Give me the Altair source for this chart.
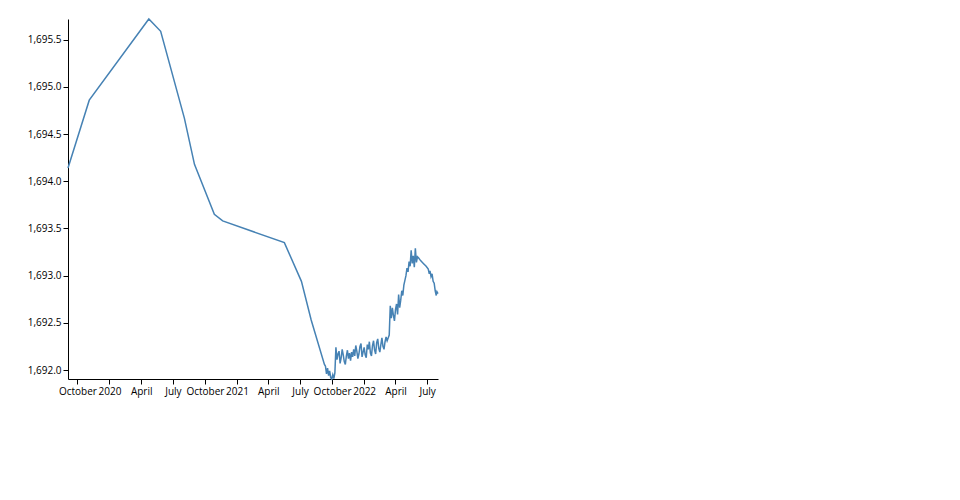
import altair as alt
import pandas as pd

# Sparse early readings
sparse_dates = [
    "2019-09-04", "2019-11-04", "2020-04-23", "2020-05-27", "2020-08-03",
    "2020-09-01", "2020-10-28", "2020-11-21", "2021-05-17", "2021-07-05",
    "2021-08-02", "2021-09-09",
]
sparse_values = [
    1694.14, 1694.86, 1695.72, 1695.59, 1694.67,
    1694.18, 1693.65, 1693.58, 1693.35, 1692.94,
    1692.53, 1692.06,
]

# Dense readings every three days, from 2021-09-12 to 2022-06-03
dense_start = "2021-09-12"
dense_values = [
    # Sep 12 - Oct 9
    1692.04, 1691.96, 1692.02, 1691.94, 1691.99, 1691.92, 1691.905, 1691.95,
    1691.91, 1691.97,
    # Oct 12 - Nov 29
    1692.24, 1692.11, 1692.17, 1692.20, 1692.07, 1692.13, 1692.22, 1692.16,
    1692.09, 1692.06, 1692.15, 1692.21, 1692.12, 1692.18, 1692.10, 1692.19,
    1692.14,
    # Dec 2 - Dec 29
    1692.22, 1692.15, 1692.26, 1692.20, 1692.12, 1692.17, 1692.25, 1692.28,
    1692.14, 1692.19,
    # Jan 1 - Mar 5
    1692.24, 1692.16, 1692.13, 1692.27, 1692.22, 1692.30, 1692.18, 1692.15,
    1692.26, 1692.31, 1692.21, 1692.17, 1692.29, 1692.33, 1692.23, 1692.19,
    1692.27, 1692.34, 1692.25, 1692.22, 1692.30, 1692.35,
    # Mar 8 - Mar 14
    1692.31, 1692.34, 1692.37,
    # Mar 17 (jump)
    1692.68,
    # Mar 20 - Apr 13
    1692.55, 1692.66, 1692.58, 1692.52, 1692.64, 1692.70, 1692.59, 1692.80,
    1692.66,
    # Apr 16 - Apr 28
    1692.74, 1692.84, 1692.79, 1692.90, 1692.95,
    # May 1 - May 10
    1693.00, 1693.08, 1693.04, 1693.15,
    # May 13 - Jun 3
    1693.10, 1693.27, 1693.13, 1693.21, 1693.09, 1693.29, 1693.14, 1693.20,
]

# Late, sparser readings
late_dates = [
    "2022-06-06", "2022-06-12", "2022-06-20", "2022-06-28", "2022-07-04",
    "2022-07-07", "2022-07-09", "2022-07-12", "2022-07-15", "2022-07-18",
    "2022-07-21", "2022-07-24", "2022-07-27", "2022-07-29", "2022-08-01",
]
late_values = [
    1693.19, 1693.16, 1693.13, 1693.10, 1693.07,
    1693.02, 1693.05, 1692.99, 1693.02, 1692.94,
    1692.92, 1692.84, 1692.79, 1692.83, 1692.81,
]

dense_dates = pd.date_range(dense_start, periods=len(dense_values), freq="3D")

df = pd.DataFrame({
    "date": list(pd.to_datetime(sparse_dates)) + list(dense_dates) + list(pd.to_datetime(late_dates)),
    "value": sparse_values + dense_values + late_values,
})

chart = alt.Chart(df).mark_line(strokeWidth=1.5, color="#4682b4").encode(
    x=alt.X("date:T", title=None,
            axis=alt.Axis(grid=False, domainColor="#000", tickColor="#000")),
    y=alt.Y("value:Q", title=None,
            scale=alt.Scale(zero=False, nice=False),
            axis=alt.Axis(grid=False, domainColor="#000", tickColor="#000",
                          format=",.1f")),
).properties(
    width=370, height=360,
    padding={"left": 19, "top": 8, "right": 5, "bottom": 5},
).configure_view(strokeWidth=0).configure_axis(
    labelFont="Open Sans", labelFontSize=10, labelColor="#000"
)

chart.save("out.html", embed_options={"renderer": "svg", "actions": False})
